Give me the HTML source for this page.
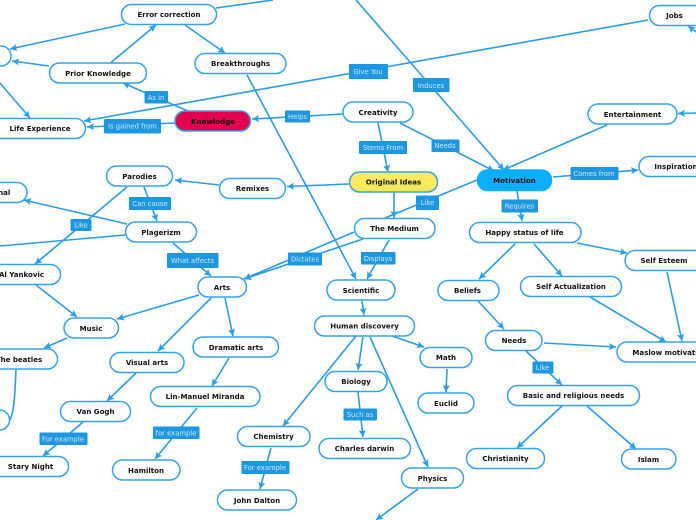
<!DOCTYPE html>
<html><head><meta charset="utf-8"><style>
html,body{margin:0;padding:0;background:#fff;width:696px;height:520px;overflow:hidden}
svg{display:block}
.e line,.e path{stroke:#2a9de6;stroke-width:1.6;fill:none}
.a line{marker-end:url(#m)}
.n rect{fill:#fff;stroke:#36a2ea;stroke-width:1.5}
.n text{font:bold 7.05px "DejaVu Sans",sans-serif;fill:#111;text-anchor:middle}
.l rect{fill:#1f97e0}
.l text{font:6.8px "DejaVu Sans",sans-serif;fill:#cdeaff;text-anchor:middle}
</style></head><body>
<svg width="696" height="520" viewBox="0 0 696 520" xmlns="http://www.w3.org/2000/svg">
<defs><marker id="m" markerUnits="userSpaceOnUse" markerWidth="8" markerHeight="8" refX="7" refY="3.500" orient="auto"><path d="M0,0L7,3.500L0,7L1.400,3.500Z" fill="#2a9de6"/></marker></defs>
<g class="e">
<line x1="216" y1="8" x2="273" y2="0"/>
<line x1="477" y1="180" x2="385" y2="218"/>
<line x1="125" y1="235" x2="0" y2="246"/>
<path d="M16,369C15,395 14,415 9,421"/>
</g>
<g class="e a">
<line x1="125" y1="24" x2="10" y2="49"/>
<line x1="111" y1="62.500" x2="156" y2="25"/>
<line x1="49" y1="66" x2="12" y2="61"/>
<line x1="185" y1="25" x2="225" y2="53"/>
<line x1="0" y1="83" x2="30" y2="118"/>
<line x1="188" y1="111" x2="123" y2="83"/>
<line x1="175" y1="123" x2="87" y2="127"/>
<line x1="343" y1="114" x2="252" y2="119"/>
<line x1="648" y1="20" x2="84" y2="121"/>
<line x1="356" y1="0" x2="504" y2="170"/>
<line x1="247" y1="75" x2="356" y2="279"/>
<line x1="378" y1="123" x2="388" y2="172"/>
<line x1="400" y1="123" x2="494" y2="171"/>
<line x1="607" y1="125" x2="503" y2="170"/>
<line x1="696" y1="113" x2="678" y2="113.500"/>
<line x1="696" y1="32" x2="688" y2="26"/>
<line x1="553" y1="177" x2="638" y2="170"/>
<line x1="517" y1="191" x2="522" y2="221"/>
<line x1="394" y1="192" x2="394" y2="218"/>
<line x1="349" y1="184" x2="287" y2="186.500"/>
<line x1="219" y1="185" x2="175" y2="180"/>
<line x1="144" y1="187" x2="157" y2="221"/>
<line x1="127" y1="187" x2="35" y2="264"/>
<line x1="127" y1="224" x2="24" y2="200"/>
<line x1="173" y1="243" x2="211" y2="276"/>
<line x1="354" y1="232" x2="244" y2="279"/>
<line x1="363" y1="239" x2="244" y2="279"/>
<line x1="389" y1="240" x2="367" y2="279"/>
<line x1="362" y1="301" x2="364" y2="315"/>
<line x1="356" y1="336" x2="283" y2="426"/>
<line x1="363" y1="337" x2="358" y2="370"/>
<line x1="370" y1="337" x2="428" y2="467"/>
<line x1="392" y1="336" x2="424" y2="347"/>
<line x1="447" y1="369" x2="446" y2="392"/>
<line x1="358" y1="392" x2="363" y2="437"/>
<line x1="271" y1="448" x2="260" y2="489"/>
<line x1="418" y1="489" x2="376" y2="520"/>
<line x1="199" y1="295" x2="117" y2="319"/>
<line x1="211" y1="298" x2="158" y2="351"/>
<line x1="225" y1="298" x2="233" y2="336"/>
<line x1="36" y1="285" x2="77" y2="317"/>
<line x1="67" y1="338" x2="44" y2="348"/>
<line x1="136" y1="373" x2="107" y2="401"/>
<line x1="229" y1="358" x2="212" y2="386"/>
<line x1="83" y1="422" x2="43" y2="456"/>
<line x1="197" y1="408" x2="155" y2="459"/>
<line x1="515" y1="244" x2="479" y2="279"/>
<line x1="534" y1="244" x2="562" y2="276"/>
<line x1="577" y1="243" x2="627" y2="253"/>
<line x1="667" y1="272" x2="682" y2="341"/>
<line x1="590" y1="297" x2="666" y2="342"/>
<line x1="544" y1="343" x2="616" y2="347"/>
<line x1="478" y1="301" x2="504" y2="329"/>
<line x1="526" y1="351" x2="562" y2="385"/>
<line x1="562" y1="406" x2="517" y2="448"/>
<line x1="587" y1="406" x2="636" y2="449"/>
</g>
<g class="n">
<rect x="121.500" y="4.500" width="95" height="20" rx="10"/><text x="169" y="17">Error correction</text>
<rect x="-20" y="46" width="31" height="20" rx="10"/>
<rect x="49.500" y="63" width="97" height="20" rx="10"/><text x="98" y="76">Prior Knowledge</text>
<rect x="195" y="53.500" width="91" height="20" rx="10"/><text x="240.500" y="66">Breakthroughs</text>
<rect x="-20" y="118.500" width="105.500" height="20" rx="10"/><text x="40" y="131">Life Experience</text>
<rect x="175" y="111" width="75.500" height="20" rx="10" style="fill:#e3004f"/><text x="213" y="124">Knowledge</text>
<rect x="106.500" y="166" width="66" height="20" rx="10"/><text x="139.500" y="179">Parodies</text>
<rect x="219.500" y="178.500" width="66" height="20" rx="10"/><text x="252.500" y="191">Remixes</text>
<rect x="-30" y="182.500" width="57" height="20" rx="10"/><text x="-7" y="195">Personal</text>
<rect x="125.500" y="222" width="71" height="20" rx="10"/><text x="161" y="235">Plagerizm</text>
<rect x="-20" y="264.500" width="80.500" height="20" rx="10"/><text x="21.500" y="277">Al Yankovic</text>
<rect x="198" y="277" width="48.500" height="20" rx="10"/><text x="222" y="290">Arts</text>
<rect x="64" y="318" width="54.500" height="20" rx="10"/><text x="91" y="331">Music</text>
<rect x="193" y="337" width="85.500" height="20" rx="10"/><text x="236" y="350">Dramatic arts</text>
<rect x="-10" y="349" width="67.500" height="20" rx="10"/><text x="19" y="362">The beatles</text>
<rect x="110" y="352.500" width="74" height="20" rx="10"/><text x="147" y="365">Visual arts</text>
<rect x="60.500" y="401.500" width="70" height="20" rx="10"/><text x="95.500" y="414">Van Gogh</text>
<rect x="150.500" y="386.500" width="109.500" height="20" rx="10"/><text x="205" y="399">Lin-Manuel Miranda</text>
<rect x="-10" y="456.500" width="78.500" height="20" rx="10"/><text x="30.500" y="469">Stary Night</text>
<rect x="112.500" y="460" width="67.500" height="20" rx="10"/><text x="146" y="473">Hamilton</text>
<rect x="237.500" y="426.500" width="72.500" height="20" rx="10"/><text x="273.500" y="439">Chemistry</text>
<rect x="217.500" y="490" width="79" height="20" rx="10"/><text x="257" y="503">John Dalton</text>
<rect x="-20" y="410" width="29.500" height="20" rx="10"/>
<rect x="649.500" y="5.500" width="60.500" height="20" rx="10"/><text x="674.500" y="18">Jobs</text>
<rect x="343" y="102" width="70" height="20" rx="10"/><text x="378" y="115">Creativity</text>
<rect x="588" y="104" width="89" height="20" rx="10"/><text x="632.500" y="117">Entertainment</text>
<rect x="349.500" y="172" width="88" height="20" rx="10" style="fill:#ffe95c"/><text x="393.500" y="184.500">Original Ideas</text>
<rect x="477.500" y="170" width="74" height="20.500" rx="10" style="fill:#0ab0ff;stroke:#0ab0ff"/><text x="514.500" y="183">Motivation</text>
<rect x="639" y="156.500" width="81" height="20" rx="10"/><text x="676" y="169">Inspiration</text>
<rect x="354.500" y="218.500" width="80.500" height="20" rx="10"/><text x="394.500" y="231">The Medium</text>
<rect x="469.500" y="222.500" width="111.500" height="20" rx="10"/><text x="524.500" y="235">Happy status of life</text>
<rect x="625" y="250.500" width="95" height="20" rx="10"/><text x="664" y="263">Self Esteem</text>
<rect x="327" y="280" width="68" height="20" rx="10"/><text x="361" y="293">Scientific</text>
<rect x="438" y="280.500" width="61" height="20" rx="10"/><text x="467.500" y="293">Beliefs</text>
<rect x="520.500" y="276.500" width="101" height="20" rx="10"/><text x="571" y="289">Self Actualization</text>
<rect x="314.500" y="316" width="100" height="20" rx="10"/><text x="364.500" y="328.500">Human discovery</text>
<rect x="485.500" y="330.500" width="56.500" height="20" rx="10"/><text x="514" y="343">Needs</text>
<rect x="617" y="342" width="113" height="20" rx="10"/><text x="670" y="355">Maslow motivation</text>
<rect x="420" y="347.500" width="52" height="20" rx="10"/><text x="446" y="360">Math</text>
<rect x="325" y="371.500" width="62" height="20" rx="10"/><text x="356" y="384">Biology</text>
<rect x="418" y="393" width="56" height="20" rx="10"/><text x="446" y="406">Euclid</text>
<rect x="507.500" y="385.500" width="132" height="20" rx="10"/><text x="573.500" y="398">Basic and religious needs</text>
<rect x="319" y="438.500" width="91.500" height="20" rx="10"/><text x="364.500" y="451">Charles darwin</text>
<rect x="466.500" y="448.500" width="78" height="20" rx="10"/><text x="505.500" y="461">Christianity</text>
<rect x="621.500" y="449" width="54.500" height="20" rx="10"/><text x="648.500" y="462">Islam</text>
<rect x="401.500" y="468" width="62" height="20" rx="10"/><text x="432.500" y="481">Physics</text>
</g>
<g class="l">
<rect x="144.500" y="91" width="23.500" height="12.500" rx="1"/><text x="156" y="100">As in</text>
<rect x="104" y="119" width="57" height="14.500" rx="1"/><text x="132.500" y="128.500">Is gained from</text>
<rect x="285" y="110.500" width="25" height="12" rx="1"/><text x="297.500" y="119">Helps</text>
<rect x="349" y="64" width="39" height="15" rx="1"/><text x="368" y="74">Give You</text>
<rect x="413" y="78" width="36.500" height="14" rx="1"/><text x="431" y="88">Induces</text>
<rect x="359" y="141" width="48" height="13" rx="1"/><text x="383" y="150">Stems From</text>
<rect x="431.500" y="139.500" width="28" height="12.500" rx="1"/><text x="445" y="148">Needs</text>
<rect x="570.500" y="167" width="48" height="13" rx="1"/><text x="594" y="176">Comes from</text>
<rect x="129" y="197" width="42" height="13" rx="1"/><text x="150" y="206">Can cause</text>
<rect x="70.500" y="219" width="21" height="12" rx="1"/><text x="81" y="227.500">Like</text>
<rect x="167" y="253" width="51.500" height="15" rx="1"/><text x="192.500" y="263">What affects</text>
<rect x="288" y="252.500" width="34" height="13" rx="1"/><text x="305" y="261.500">Dictates</text>
<rect x="416" y="195.500" width="23" height="14.500" rx="1"/><text x="427.500" y="205">Like</text>
<rect x="361" y="252" width="34.500" height="12.500" rx="1"/><text x="378" y="261">Displays</text>
<rect x="501.500" y="199.500" width="36.500" height="13" rx="1"/><text x="519.500" y="208.500">Requires</text>
<rect x="532.500" y="361.500" width="21" height="12" rx="1"/><text x="542.500" y="370">Like</text>
<rect x="39.500" y="432.500" width="48" height="12.500" rx="1"/><text x="63" y="441.500">For example</text>
<rect x="153" y="426.500" width="46.500" height="12.500" rx="1"/><text x="176" y="435.500">for example</text>
<rect x="241.500" y="461" width="48" height="13" rx="1"/><text x="265" y="470">For example</text>
<rect x="343.500" y="408.500" width="33.500" height="12" rx="1"/><text x="360" y="417">Such as</text>
</g>
</svg>
</body></html>
